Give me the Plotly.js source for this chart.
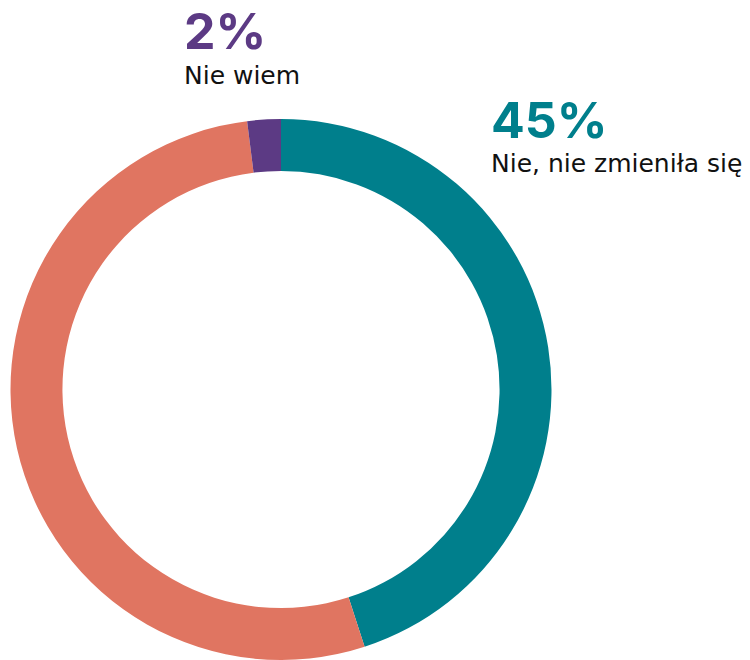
<!DOCTYPE html>
<html>
<head>
<meta charset="utf-8">
<script src="https://cdn.plot.ly/plotly-3.0.1.min.js"></script>
<style>html,body{margin:0;padding:0;background:#fff;}#chart{width:750px;height:660px;}</style>
</head>
<body>
<div id="chart"></div>
<script>
const categories = ["Nie, nie zmieniła się", "Tak", "Nie wiem"];
const values = [45, 53, 2];
const colors = ["#007F8C", "#E07561", "#5C3A84"];
const shownLabels = [
  {idx: 0, pct: "45%", text: "Nie, nie zmieniła się", x: 489, yPct: 120, yText: 163},
  {idx: 2, pct: "2%", text: "Nie wiem", x: 182, yPct: 31, yText: 76}
];

const W = 750, H = 660;
const annotations = [];
shownLabels.forEach(l => {
  annotations.push({
    xref: "paper", yref: "paper", x: l.x / W, y: 1 - l.yPct / H,
    xanchor: "left", yanchor: "middle", showarrow: false,
    text: "<b>" + l.pct + "</b>",
    font: {family: "Inter, 'Open Sans', sans-serif", size: 50, color: colors[l.idx]}
  });
  annotations.push({
    xref: "paper", yref: "paper", x: l.x / W, y: 1 - l.yText / H,
    xanchor: "left", yanchor: "middle", showarrow: false,
    text: l.text,
    font: {family: "'DejaVu Sans', sans-serif", size: 25, color: "#111111"}
  });
});

Plotly.newPlot("chart", [{
  type: "pie",
  labels: categories,
  values: values,
  hole: 0.808,
  sort: false,
  direction: "clockwise",
  rotation: 0,
  textinfo: "none",
  marker: {colors: colors, line: {width: 0}},
  domain: {x: [10 / W, 552 / W], y: [0, 541 / H]},
  showlegend: false,
  hoverinfo: "label+percent"
}], {
  width: W, height: H,
  margin: {l: 0, r: 0, t: 0, b: 0},
  paper_bgcolor: "#fff",
  showlegend: false,
  annotations: annotations
}, {displayModeBar: false});
</script>
</body>
</html>
